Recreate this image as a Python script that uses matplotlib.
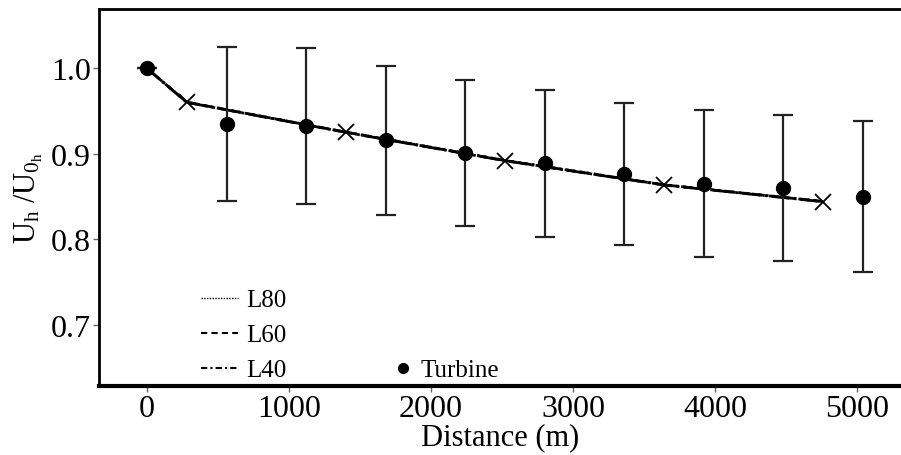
import matplotlib
matplotlib.use("Agg")
import matplotlib.pyplot as plt
from matplotlib.lines import Line2D

plt.rcParams['font.family'] = ['Liberation Serif', 'DejaVu Serif']
plt.rcParams['mathtext.fontset'] = 'custom'
plt.rcParams['mathtext.rm'] = 'Liberation Serif'
plt.rcParams['mathtext.it'] = 'Liberation Serif:italic'

# Turbine measurements
turbine_x = [0, 560, 1120, 1680, 2240, 2800, 3360, 3920, 4480, 5040]
turbine_y = [1.000, 0.935, 0.933, 0.916, 0.901, 0.889, 0.876, 0.865, 0.860, 0.850]
turbine_err = [0.0, 0.090, 0.091, 0.087, 0.085, 0.086, 0.083, 0.086, 0.085, 0.088]

# Model lines
line_x = [0, 280, 1400, 2520, 3640, 4760]
l80_y = [1.000, 0.9605, 0.9255, 0.8925, 0.8640, 0.8445]
l60_y = [1.000, 0.9605, 0.9255, 0.8923, 0.8639, 0.8444]
l40_y = [1.000, 0.9603, 0.9253, 0.8921, 0.8637, 0.8442]

xticks = [0, 1000, 2000, 3000, 4000, 5000]
yticks = [0.7, 0.8, 0.9, 1.0]

fig = plt.figure(figsize=(9.01, 4.56), dpi=100)
ax = fig.add_axes([0.1099, 0.1513, 0.8901, 0.8268])

ax.plot(line_x, l80_y, color='black', linestyle=(0, (1, 1.5)), linewidth=2.0, label='L80')
ax.plot(line_x, l60_y, color='black', linestyle=(2, (3.7, 1.6)), linewidth=2.0, label='L60')
ax.plot(line_x, l40_y, color='black', linestyle=(1, (6.4, 1.6, 1, 1.6)), linewidth=2.0, label='L40')
ax.plot(line_x[1:], l60_y[1:], linestyle='none', marker='x', markersize=11,
        markeredgewidth=1.3, color='black')

ax.errorbar(turbine_x, turbine_y, yerr=turbine_err, fmt='o', color='black',
            ecolor='#222222', elinewidth=1.6, capsize=7.5, capthick=1.6,
            markersize=10, zorder=5)

ax.set_xlim(-338, 5310)
ax.set_ylim(0.6287, 1.0695)
ax.set_xticks(xticks)
ax.set_yticks(yticks)
ax.set_xticklabels([str(v) for v in xticks])
ax.set_yticklabels([f"{v:.1f}" for v in yticks])
ax.tick_params(axis='both', labelsize=23, direction='out', length=4, width=1,
               color='#666666', pad=2)
ax.spines['right'].set_visible(False)
ax.spines['left'].set_linewidth(2.0)
ax.spines['top'].set_linewidth(2.0)
ax.spines['bottom'].set_linewidth(3.0)

ax.set_xlabel('Distance (m)', fontsize=22, labelpad=-1)
ax.set_ylabel(r'$\mathrm{U_h\ /U_{0_h}}$', fontsize=22, labelpad=4)

h = [Line2D([], [], color='black', linestyle=(0, (1, 1)), linewidth=1),
     Line2D([], [], color='black', linestyle=(0, (3, 2)), linewidth=1.5),
     Line2D([], [], color='black', linestyle=(0, (3, 1.5, 1, 1.5)), linewidth=1.5)]
leg1 = ax.legend(h, ['L80', 'L60', 'L40'], loc='lower left', bbox_to_anchor=(0.102, -0.041),
                 frameon=False, fontsize=18, handlelength=1.5, labelspacing=0.5,
                 handletextpad=0.3, borderpad=0.3)
ax.add_artist(leg1)
th = [Line2D([], [], color='black', marker='o', linestyle='none', markersize=7)]
ax.legend(th, ['Turbine'], loc='lower left', bbox_to_anchor=(0.338, -0.041), frameon=False,
          fontsize=18, handlelength=1.0, handletextpad=0.2, borderpad=0.3)

fig.savefig('out.png', dpi=100)
